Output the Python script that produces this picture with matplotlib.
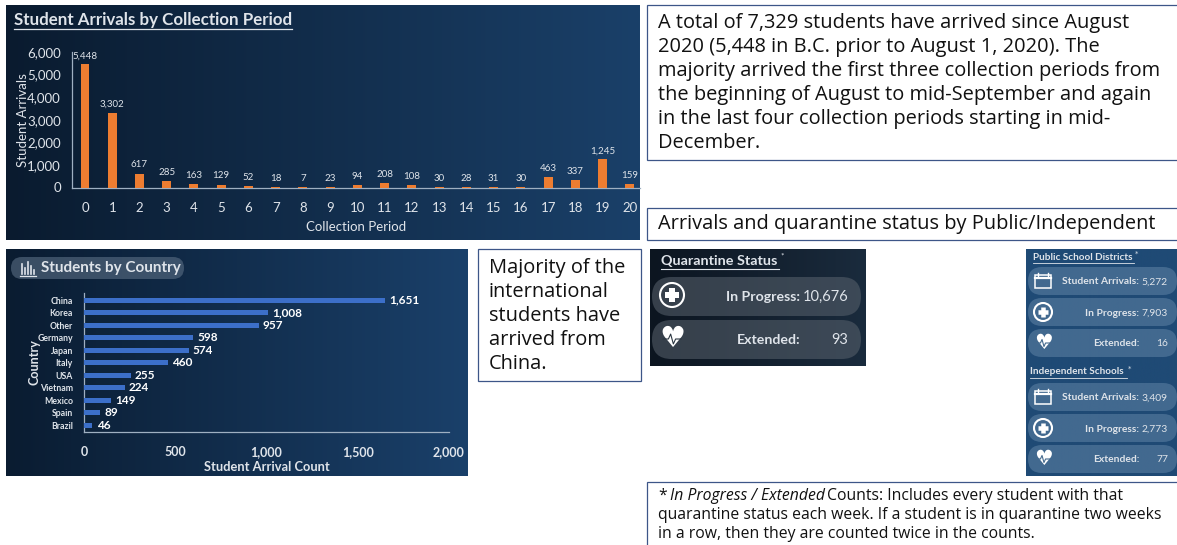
#Recreate the student arrivals dashboard

import numpy as np
import matplotlib
matplotlib.use("Agg")
import matplotlib.pyplot as plt
from matplotlib.patches import Rectangle, FancyBboxPatch, Circle

W, H = 1177, 545

#chart data
periods = list(range(21))
arrivals = [5448, 3302, 617, 285, 163, 129, 52, 18, 7, 23, 94, 208, 108, 30, 28, 31, 30, 463, 337, 1245, 159]
countries = ["China", "Korea", "Other", "Germany", "Japan", "Italy", "USA", "Vietnam", "Mexico", "Spain", "Brazil"]
country_counts = [1651, 1008, 957, 598, 574, 460, 255, 224, 149, 89, 46]

#card values
quarantine_labels = ["In Progress:", "Extended:"]
quarantine_values = ["10,676", "93"]
card_labels = ["Student Arrivals:", "In Progress:", "Extended:"]
public_values = ["5,272", "7,903", "16"]
independent_values = ["3,409", "2,773", "77"]

#text boxes
summary_lines = ["A total of 7,329 students have arrived since August",
                 "2020 (5,448 in B.C. prior to August 1, 2020). The",
                 "majority arrived the first three collection periods from",
                 "the beginning of August to mid-September and again",
                 "in the last four collection periods starting in mid-",
                 "December."]
china_lines = ["Majority of the", "international", "students have", "arrived from", "China."]
footer_lines = ["Counts: Includes every student with that",
                "quarantine status each week. If a student is in quarantine two weeks",
                "in a row, then they are counted twice in the counts."]

TEXT_FONT = "Open Sans"
CHART_FONT = "Lato"
LIGHT = "#dfe4ea"
BORDER = "#3d5688"

fig = plt.figure(figsize=(W / 100, H / 100), dpi=100, facecolor="white")

#background layer in pixel coordinates
bg = fig.add_axes([0, 0, 1, 1], zorder=0)
bg.axis("off")

#top layer for cards and text
top = fig.add_axes([0, 0, 1, 1], zorder=5)
top.set_xlim(0, W)
top.set_ylim(H, 0)
top.axis("off")
top.patch.set_alpha(0)


def panel(x0, y0, x1, y1, left, right):
    #horizontal gradient panel
    cols = np.array([matplotlib.colors.to_rgb(left), matplotlib.colors.to_rgb(right)])
    grad = np.linspace(0, 1, 256)[None, :, None]
    img = cols[0] * (1 - grad) + cols[1] * grad
    bg.imshow(img, extent=[x0, x1, y1, y0], aspect="auto", zorder=1)
    bg.set_xlim(0, W)
    bg.set_ylim(H, 0)


def px_axes(x0, y0, x1, y1):
    ax = fig.add_axes([x0 / W, 1 - y1 / H, (x1 - x0) / W, (y1 - y0) / H], zorder=2)
    ax.patch.set_alpha(0)
    for s in ["top", "right"]:
        ax.spines[s].set_visible(False)
    for s in ["left", "bottom"]:
        ax.spines[s].set_color("#9fb0c2")
        ax.spines[s].set_linewidth(0.9)
    return ax


def text_box(x0, y0, x1, y1):
    top.add_patch(Rectangle((x0, y0), x1 - x0, y1 - y0, fc="white", ec=BORDER, lw=0.9, zorder=1))


def pill(x0, y0, x1, y1, color, alpha):
    r = (y1 - y0) / 2
    top.add_patch(FancyBboxPatch((x0 + r, y0 + r), x1 - x0 - 2 * r, 0,
                                 boxstyle="round,pad=%f,rounding_size=%f" % (r, r),
                                 fc=color, alpha=alpha, ec="none", zorder=2))


def plus_icon(cx, cy, r):
    top.add_patch(Circle((cx, cy), r, fc="none", ec="white", lw=1.5, zorder=4))
    top.plot([cx - r * 0.6, cx + r * 0.6], [cy, cy], color="white", lw=r * 0.36, zorder=4, solid_capstyle="butt")
    top.plot([cx, cx], [cy - r * 0.6, cy + r * 0.6], color="white", lw=r * 0.36, zorder=4, solid_capstyle="butt")


def heart_icon(cx, cy, size, back):
    top.text(cx, cy, "\u2665", color="white", fontsize=size, ha="center", va="center",
             family="DejaVu Sans", zorder=4)
    #pulse line across the heart
    s = size / 21 * 9
    top.plot([cx - s, cx - s * 0.4, cx - s * 0.15, cx + s * 0.15, cx + s * 0.4, cx + s],
             [cy, cy, cy - s * 0.55, cy + s * 0.55, cy, cy], color=back, lw=0.8, zorder=5)


def calendar_icon(cx, cy):
    top.add_patch(Rectangle((cx - 8, cy - 6), 16, 13, fc="none", ec="white", lw=1.1, zorder=4))
    top.plot([cx - 8, cx + 8], [cy - 3, cy - 3], color="white", lw=1.6, zorder=4)
    top.plot([cx - 5, cx - 5], [cy - 8, cy - 5], color="white", lw=1, zorder=4)
    top.plot([cx + 5, cx + 5], [cy - 8, cy - 5], color="white", lw=1, zorder=4)


#panels
panel(6, 5, 640, 240, "#0a1b2f", "#1a4069")
panel(6, 249, 468, 476, "#0a1c31", "#1a406a")
panel(650, 249, 866, 366, "#0c1520", "#1a2b3d")
panel(1026, 249, 1177, 476, "#1f4a75", "#1f4a75")

#arrivals bar chart
ax1 = px_axes(72, 52, 640, 187.5)
ax1.bar(periods, arrivals, width=0.33, color="#ed7d31", zorder=3)
ax1.set_xlim(-0.477, 20.37)
ax1.set_ylim(0, 6000)
ax1.set_xticks(periods)
ax1.set_yticks(range(0, 6001, 1000))
ax1.set_yticklabels(["{:,}".format(v) for v in range(0, 6001, 1000)])
ax1.tick_params(axis="both", length=0, colors=LIGHT, labelsize=9.5, labelfontfamily=CHART_FONT)
ax1.tick_params(axis="x", pad=10.5)
ax1.tick_params(axis="y", pad=8)
ax1.set_xlabel("Collection Period", color=LIGHT, fontsize=9.5, family=CHART_FONT, labelpad=5)
ax1.set_ylabel("Student Arrivals", color=LIGHT, fontsize=9.5, family=CHART_FONT, labelpad=-1)
for p, v in zip(periods, arrivals):
    ax1.annotate("{:,}".format(v), (p, v), xytext=(0, 3), textcoords="offset points", ha="center",
                 va="bottom", color=LIGHT, fontsize=7, family=CHART_FONT, annotation_clip=False)

#country bar chart
ax2 = px_axes(84, 293, 449, 432)
ypos = np.arange(len(countries))
ax2.barh(ypos, country_counts, height=0.4, color="#3c6fc9", zorder=3)
ax2.set_xlim(0, 2000)
ax2.set_ylim(10.53, -0.56)
ax2.set_yticks(ypos)
ax2.set_yticklabels(countries, fontweight="bold")
ax2.set_xticks(range(0, 2001, 500))
ax2.set_xticklabels(["{:,}".format(v) for v in range(0, 2001, 500)], fontweight="bold")
ax2.tick_params(axis="y", length=0, colors=LIGHT, labelsize=6.3, labelfontfamily=CHART_FONT, pad=8)
ax2.tick_params(axis="x", length=0, colors=LIGHT, labelsize=9, labelfontfamily=CHART_FONT, pad=10)
ax2.set_xlabel("Student Arrival Count", color=LIGHT, fontsize=9.3, family=CHART_FONT, fontweight="bold", labelpad=2)
ax2.set_ylabel("Country", color=LIGHT, fontsize=9, family=CHART_FONT, fontweight="bold", labelpad=-2)
for y, v in zip(ypos, country_counts):
    ax2.annotate("{:,}".format(v), (v, y), xytext=(3, 0), textcoords="offset points", ha="left",
                 va="center", color="white", fontsize=8.5, family=CHART_FONT, fontweight="bold")

#panel titles
top.text(14, 20, "Student Arrivals by Collection Period", color=LIGHT, fontsize=12.2, family=CHART_FONT,
         fontweight="bold", va="center", zorder=4)
top.plot([14, 292], [28.5, 28.5], color=LIGHT, lw=0.9, zorder=4)

pill(11, 257, 184, 279, "#5b6f85", 0.6)
top.text(41, 268, "Students by Country", color=LIGHT, fontsize=11, family=CHART_FONT, fontweight="bold",
         va="center", zorder=4)
for dx, dy in zip([22, 25, 28, 31, 34], [10, 6, 12, 8, 4]):
    top.plot([dx, dx], [274, 274 - dy], color=LIGHT, lw=1.2, zorder=4)
top.plot([20, 36], [275.5, 275.5], color=LIGHT, lw=0.9, zorder=4)

#quarantine card
top.text(661, 261, "Quarantine Status", color=LIGHT, fontsize=10.4, family=CHART_FONT, fontweight="bold",
         va="center", zorder=4)
top.plot([661, 779], [268.5, 268.5], color=LIGHT, lw=0.8, zorder=4)
top.text(780, 256, "*", color=LIGHT, fontsize=6, va="center", family=CHART_FONT, zorder=4)
for i, (lab, val) in enumerate(zip(quarantine_labels, quarantine_values)):
    y0 = 277 + i * 43
    pill(652, y0, 861, y0 + 39, "#59636e", 0.55)
    cy = y0 + 20
    top.text(800, cy, lab, color=LIGHT, fontsize=10.2, family=CHART_FONT, fontweight="bold", ha="right",
             va="center", zorder=4)
    top.text(848, cy, val, color=LIGHT, fontsize=10.5, family=CHART_FONT, ha="right", va="center", zorder=4)
plus_icon(672, 295, 12)
heart_icon(672, 339, 21, "#2b3742")


#school cards
def school_block(title, title_x, title_w, y_title, y_first, values):
    top.text(title_x, y_title, title, color=LIGHT, fontsize=7.2, family=CHART_FONT, fontweight="bold",
             va="center", zorder=4)
    top.plot([title_x, title_x + title_w], [y_title + 6, y_title + 6], color=LIGHT, lw=0.6, zorder=4)
    top.text(title_x + title_w + 1, y_title - 3, "*", color=LIGHT, fontsize=5, va="center", zorder=4)
    for i, (lab, val) in enumerate(zip(card_labels, values)):
        y0 = y_first + i * 31
        pill(1028, y0, 1177, y0 + 28, "#5f83a6", 0.55)
        cy = y0 + 15
        top.text(1139, cy, lab, color=LIGHT, fontsize=7.4, family=CHART_FONT, fontweight="bold", ha="right",
                 va="center", zorder=4)
        top.text(1168, cy, val, color=LIGHT, fontsize=7.4, family=CHART_FONT, ha="right", va="center", zorder=4)
    calendar_icon(1043, y_first + 14)
    plus_icon(1043, y_first + 45, 9)
    heart_icon(1043, y_first + 76, 15, "#446a8e")


school_block("Public School Districts", 1033, 101, 257, 267, public_values)
school_block("Independent Schools", 1030, 97, 372, 383, independent_values)

#text boxes
text_box(647, 5, 1180, 160)
for i, line in enumerate(summary_lines):
    top.text(658, 23 + i * 24, line, color="#111111", fontsize=14.45, family=TEXT_FONT, va="center", zorder=4)

text_box(647, 208, 1180, 240)
top.text(658, 224, "Arrivals and quarantine status by Public/Independent", color="#111111", fontsize=14.4,
         family=TEXT_FONT, va="center", zorder=4)

text_box(478, 249, 641, 381)
for i, line in enumerate(china_lines):
    top.text(489, 268 + i * 24, line, color="#111111", fontsize=14.4, family=TEXT_FONT, va="center", zorder=4)

text_box(647, 482, 1180, 548)
top.text(658, 496, "*", color="#111111", fontsize=11.3, family=TEXT_FONT, va="center", zorder=4)
top.text(670, 496, "In Progress / Extended", color="#111111", fontsize=11.3, family=TEXT_FONT, style="italic",
         va="center", zorder=4)
top.text(827, 496, footer_lines[0], color="#111111", fontsize=11.3, family=TEXT_FONT, va="center", zorder=4)
for i, line in enumerate(footer_lines[1:]):
    top.text(658, 515 + i * 19, line, color="#111111", fontsize=11.3, family=TEXT_FONT, va="center", zorder=4)

fig.savefig("out.png", dpi=100)
